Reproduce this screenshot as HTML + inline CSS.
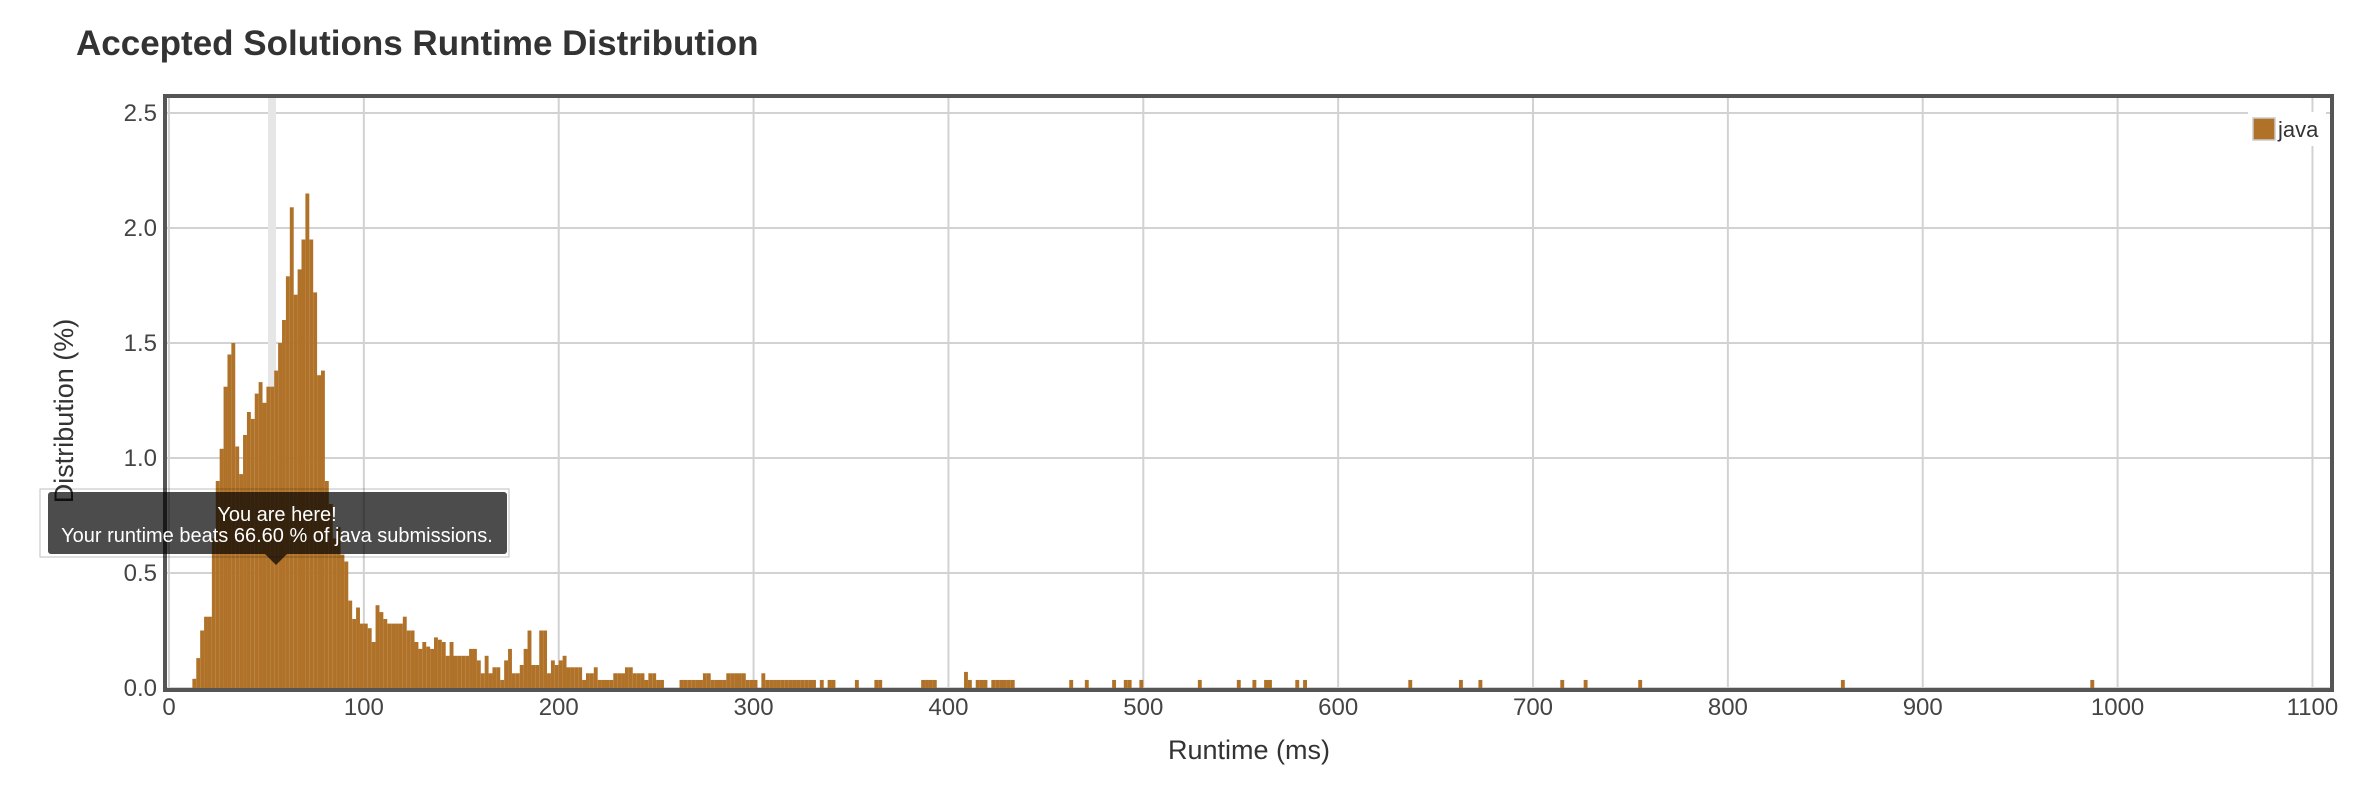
<!DOCTYPE html>
<html><head><meta charset="utf-8"><style>
html,body{margin:0;padding:0;background:#fff;}
svg{display:block;font-family:"Liberation Sans",Arial,sans-serif;}
</style></head><body>
<svg id="chart" width="2366" height="788" viewBox="0 0 2366 788">
<text x="76" y="55" font-size="35" font-weight="bold" fill="#333">Accepted Solutions Runtime Distribution</text>
<g id="grid"></g>
<rect x="268" y="98" width="8" height="590" fill="#e6e6e6"/>
<g id="bars"></g>
<rect x="165" y="96" width="2167" height="594" fill="none" stroke="#555" stroke-width="4"/>
<g id="yticks"></g>
<g id="xticks"></g>
<text transform="translate(73,411) rotate(-90)" text-anchor="middle" font-size="27" fill="#333">Distribution (%)</text>
<text x="1249" y="759" text-anchor="middle" font-size="27" fill="#333">Runtime (ms)</text>
<g>
<rect x="2248" y="112" width="78" height="34" fill="#fff"/>
<rect x="2253" y="118" width="22" height="22" fill="#b07228" stroke="#ccc" stroke-width="1.5"/>
<text x="2278" y="137" font-size="22" fill="#333">java</text>
</g>
<g>
<rect x="40" y="489" width="469" height="68" fill="none" stroke="rgba(0,0,0,0.25)" stroke-width="1"/>
<rect x="48" y="492" width="459" height="62" rx="3" fill="rgba(0,0,0,0.7)"/>
<polygon points="265,554 287,554 276,565" fill="rgba(0,0,0,0.7)"/>
<text x="277" y="521" text-anchor="middle" font-size="20" fill="#fff">You are here!</text>
<text x="277" y="542" text-anchor="middle" font-size="20" fill="#fff">Your runtime beats 66.60 % of java submissions.</text>
</g>
</svg>
<script>
const runtimeMs = [12,14,16,18,20,22,24,26,28,30,32,34,36,38,40,42,44,46,48,50,52,54,56,58,60,62,64,66,68,70,72,74,76,78,80,82,84,86,88,90,92,94,96,98,100,102,104,106,108,110,112,114,116,
118,120,122,124,126,128,130,132,134,136,138,140,142,144,146,148,150,152,154,156,158,160,162,164,166,168,170,172,174,176,178,180,182,184,186,188,190,192,194,196,198,200,202,204,206,208,210,212,214,216,218,220,222,224,226,228,230,232,234,236,238,240,242,244,246,248,250,252,
262,264,266,268,270,272,274,276,278,280,282,284,286,288,290,292,294,296,298,300,304,306,308,310,312,314,316,318,320,322,324,326,328,330,334,338,340,352,362,364,386,388,390,392,408,410,414,416,418,422,424,426,428,430,432,462,470,484,490,492,498,528,548,556,562,564,578,582,636,662,672,714,726,754,858,986,1104];
const distribution = [0.04,0.13,0.25,0.31,0.31,0.65,0.9,1.04,1.31,1.45,1.50,1.05,0.93,1.10,1.20,1.17,1.28,1.33,1.24,1.31,1.31,1.38,1.50,1.60,1.79,2.09,1.71,1.82,1.95,2.15,1.95,1.72,1.36,1.38,0.90,0.80,0.65,0.70,0.58,0.55,0.38,0.30,0.35,0.28,0.28,0.26,0.20,0.36,0.33,0.30,0.28,0.28,0.28,
0.28,0.31,0.25,0.25,0.20,0.17,0.20,0.18,0.17,0.22,0.21,0.20,0.14,0.20,0.14,0.14,0.14,0.14,0.17,0.17,0.12,0.064,0.14,0.064,0.09,0.09,0.035,0.12,0.17,0.064,0.064,0.10,0.17,0.25,0.10,0.10,0.25,0.25,0.064,0.12,0.10,0.12,0.14,0.09,0.09,0.09,0.09,0.035,0.064,0.064,0.09,0.035,0.035,0.035,0.035,0.064,0.064,0.064,0.09,0.09,0.064,0.064,0.064,0.035,0.064,0.064,0.035,0.035,
0.035,0.035,0.035,0.035,0.035,0.035,0.064,0.064,0.035,0.035,0.035,0.035,0.064,0.064,0.064,0.064,0.064,0.035,0.035,0.035,0.064,0.035,0.035,0.035,0.035,0.035,0.035,0.035,0.035,0.035,0.035,0.035,0.035,0.035,0.035,0.035,0.035,0.035,0.035,0.035,0.035,0.035,0.035,0.035,0.07,0.035,0.035,0.035,0.035,0.035,0.035,0.035,0.035,0.035,0.035,0.035,0.035,0.035,0.035,0.035,0.035,0.035,0.035,0.035,0.035,0.035,0.035,0.035,0.035,0.035,0.035,0.035,0.035,0.035,0.035,0.035];
const binWidthMs = 2;
const xTickValues = [0,100,200,300,400,500,600,700,800,900,1000,1100];
const yTickValues = [0.0,0.5,1.0,1.5,2.0,2.5];
const yTickLabels = ["0.0","0.5","1.0","1.5","2.0","2.5"];

const NS = "http://www.w3.org/2000/svg";
const X0 = 169, XS = 1.9486, Y0 = 688, YS = 230;
function xScale(v){ return X0 + v * XS; }
function yScale(v){ return Y0 - v * YS; }
function mk(tag, attrs, parent){ const e = document.createElementNS(NS, tag); for (const k in attrs) e.setAttribute(k, attrs[k]); parent.appendChild(e); return e; }

const grid = document.getElementById('grid');
const yt = document.getElementById('yticks');
const xt = document.getElementById('xticks');
const bars = document.getElementById('bars');

yTickValues.forEach((v, i) => {
  const l = mk('line', {x1:167, x2:2330, y1:yScale(v), y2:yScale(v), stroke:'#d2d2d2', 'stroke-width':2}, grid);
  
  
  const t = mk('text', {x:157, y:yScale(v)+8, 'text-anchor':'end', 'font-size':24, fill:'#444'}, yt);
  t.textContent = yTickLabels[i];
  
  
});
xTickValues.forEach(v => {
  const l = mk('line', {x1:xScale(v), x2:xScale(v), y1:98, y2:688, stroke:'#d2d2d2', 'stroke-width':2}, grid);
  
  
  const t = mk('text', {x:xScale(v), y:715, 'text-anchor':'middle', 'font-size':24, fill:'#444'}, xt);
  t.textContent = String(v);
  
  
});
runtimeMs.forEach((ms, i) => {
  const v = distribution[i];
  const x = xScale(ms), w = binWidthMs * XS;
  const r = mk('rect', {x:x, y:yScale(v), width:w, height:Y0 - yScale(v), fill:'#b07228'}, bars);
  
  
});
</script>
</body></html>
